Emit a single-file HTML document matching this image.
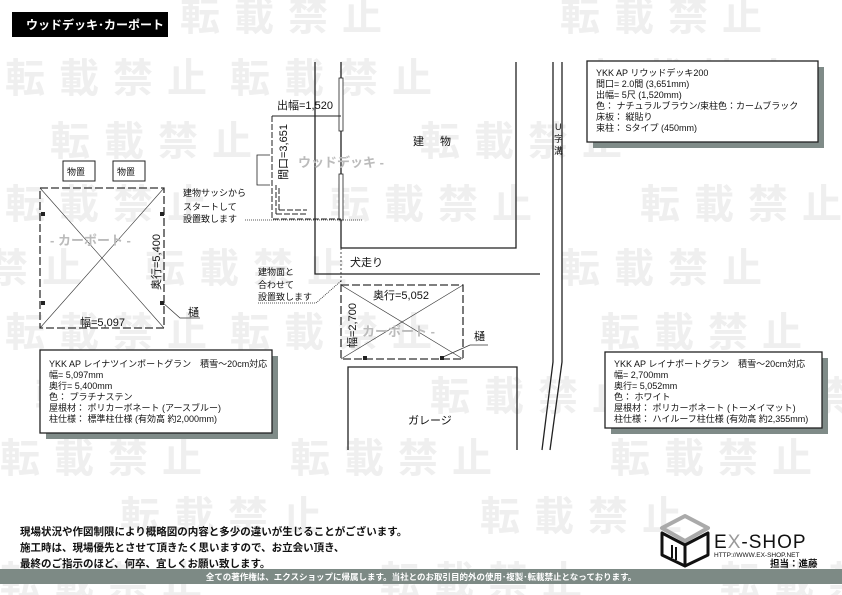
<!DOCTYPE html>
<html><head><meta charset="utf-8"><style>
html,body{margin:0;padding:0;background:#fff;}
svg{display:block;}
text{font-family:"Liberation Sans","Noto Sans CJK JP",sans-serif;}
.wm{fill:#efefef;font-size:40px;font-weight:bold;letter-spacing:14px;}
.s{font-size:9px;fill:#111;}
.m{font-size:11px;fill:#111;}
.g{font-size:13px;fill:#bbb;font-weight:bold;}
</style></head><body>
<svg width="842" height="595" viewBox="0 0 842 595" xmlns="http://www.w3.org/2000/svg">
<rect width="842" height="595" fill="#fff"/>
<g class="wm">
<text x="180" y="30">転載禁止</text><text x="560" y="30">転載禁止</text>
<text x="5" y="92">転載禁止</text><text x="230" y="92">転載禁止</text><text x="590" y="92">転載禁止</text>
<text x="50" y="155">転載禁止</text><text x="420" y="155">転載禁止</text>
<text x="5" y="218">転載禁止</text><text x="330" y="218">転載禁止</text><text x="640" y="218">転載禁止</text>
<text x="-120" y="282">転載禁止</text><text x="145" y="282">転載禁止</text><text x="560" y="282">転載禁止</text>
<text x="5" y="346">転載禁止</text><text x="230" y="346">転載禁止</text><text x="600" y="346">転載禁止</text>
<text x="35" y="410">転載禁止</text><text x="430" y="410">転載禁止</text><text x="700" y="410">転載禁止</text>
<text x="0" y="472">転載禁止</text><text x="290" y="472">転載禁止</text><text x="610" y="472">転載禁止</text>
<text x="120" y="530">転載禁止</text><text x="480" y="530">転載禁止</text>
<text x="0" y="595">転載禁止</text><text x="380" y="595">転載禁止</text><text x="720" y="595">転載禁止</text>
</g>
<rect x="12" y="12" width="156" height="25" fill="#000"/>
<text x="26" y="29" font-size="12" fill="#fff" font-weight="bold">ウッドデッキ･カーポート</text>
<g stroke="#222" stroke-width="1.3" fill="none">
<polyline points="315,62 315,274 540,274"/>
<polyline points="341,62 341,248 516,248 516,62"/>
<polyline points="553,62 553,362 542,450"/>
<polyline points="562,62 562,362 550,450"/>
<polyline points="348,450 348,367 517,367 517,450"/>
</g>
<rect x="339" y="78" width="4" height="53" fill="#fff" stroke="#222" stroke-width="0.8"/>
<rect x="339" y="174" width="4" height="46" fill="#fff" stroke="#222" stroke-width="0.8"/>
<g stroke="#222" stroke-width="1" fill="none">
<line x1="272" y1="116" x2="341" y2="116"/>
<path d="M272 116 V219 H341" stroke-dasharray="6,2"/>
<path d="M276 214 V185 M276 214 H307" stroke-dasharray="6,2"/>
<path d="M279 210 V188 M279 210 H307" stroke-dasharray="6,2"/>
<path d="M270 155 H257 V185 H270" stroke-width="0.8"/>
<line x1="245" y1="220" x2="362" y2="220" stroke-dasharray="1,1" stroke-width="0.8"/>
<line x1="341" y1="248" x2="341" y2="285" stroke-dasharray="2,2" stroke-width="0.8"/>
<path d="M258 303 H316 L341 281" stroke-dasharray="1,1" stroke-width="0.8"/>
</g>
<text x="277" y="109" class="m">出幅=1,520</text>
<text transform="translate(287,180) rotate(-90)" class="m">間口=3,651</text>
<text x="298" y="167" class="g">ウッドデッキ -</text>
<text x="413" y="145" class="m">建</text><text x="440" y="145" class="m">物</text>
<text x="555" y="130" class="s">U</text>
<text x="554" y="142" class="s">字</text><text x="554" y="154" class="s">溝</text>
<text x="183" y="196" class="s">建物サッシから</text>
<text x="183" y="210" class="s">スタートして</text>
<text x="183" y="222" class="s">設置致します</text>
<text x="258" y="275" class="s">建物面と</text>
<text x="258" y="288" class="s">合わせて</text>
<text x="258" y="300" class="s">設置致します</text>
<text x="350" y="266" class="m">犬走り</text>
<rect x="63" y="161" width="32" height="20" fill="#fff" stroke="#222"/>
<rect x="113" y="161" width="32" height="20" fill="#fff" stroke="#222"/>
<text x="67" y="175" class="s">物置</text><text x="117" y="175" class="s">物置</text>
<g stroke="#333" fill="none">
<rect x="40" y="188" width="124" height="140" stroke-dasharray="8,3" stroke-width="1.3"/>
<line x1="40" y1="188" x2="164" y2="328" stroke-width="0.6"/>
<line x1="164" y1="188" x2="40" y2="328" stroke-width="0.6"/>
<path d="M162 302 L180 318 H200" stroke-width="0.7"/>
</g>
<g fill="#222"><rect x="41" y="212" width="4" height="4"/><rect x="160" y="212" width="4" height="4"/><rect x="41" y="301" width="4" height="4"/><rect x="160" y="301" width="4" height="4"/></g>
<text x="50" y="245" class="g">- カーポート -</text>
<text transform="translate(160,290) rotate(-90)" class="m">奥行=5,400</text>
<text x="80" y="326" class="m">幅=5,097</text>
<text x="188" y="316" class="m">樋</text>
<g stroke="#333" fill="none">
<rect x="341" y="285" width="122" height="74" stroke-dasharray="8,3" stroke-width="1.3"/>
<line x1="341" y1="285" x2="463" y2="359" stroke-width="0.6"/>
<line x1="463" y1="285" x2="341" y2="359" stroke-width="0.6"/>
<path d="M443 357 L470 345 H488" stroke-width="0.7"/>
</g>
<g fill="#222"><rect x="363" y="356" width="4" height="4"/><rect x="440" y="356" width="4" height="4"/></g>
<text x="362" y="336" class="g">カーポート -</text>
<text x="373" y="299" class="m">奥行=5,052</text>
<text transform="translate(356,348) rotate(-90)" class="m">幅=2,700</text>
<text x="474" y="340" class="m">樋</text>
<text x="408" y="424" class="m">ガレージ</text>
<rect x="593" y="67" width="231" height="81" fill="#7f8b88"/>
<rect x="587" y="61" width="231" height="81" fill="#fff" stroke="#222" stroke-width="1.3"/>
<g class="s" font-size="8.5">
<text x="596" y="76">YKK AP リウッドデッキ200</text>
<text x="596" y="87">間口= 2.0間 (3,651mm)</text>
<text x="596" y="98">出幅= 5尺 (1,520mm)</text>
<text x="596" y="109">色： ナチュラルブラウン/束柱色：カームブラック</text>
<text x="596" y="120">床板： 縦貼り</text>
<text x="596" y="131">束柱： Sタイプ (450mm)</text>
</g>
<rect x="46" y="356" width="232" height="83" fill="#7f8b88"/>
<rect x="40" y="350" width="232" height="83" fill="#fff" stroke="#222" stroke-width="1.3"/>
<g class="s" font-size="8.5">
<text x="49" y="367">YKK AP レイナツインポートグラン　積雪～20cm対応</text>
<text x="49" y="378">幅= 5,097mm</text>
<text x="49" y="389">奥行= 5,400mm</text>
<text x="49" y="400">色： プラチナステン</text>
<text x="49" y="411">屋根材： ポリカーボネート (アースブルー)</text>
<text x="49" y="422">柱仕様： 標準柱仕様 (有効高 約2,000mm)</text>
</g>
<rect x="611" y="358" width="217" height="76" fill="#7f8b88"/>
<rect x="605" y="352" width="217" height="76" fill="#fff" stroke="#222" stroke-width="1.3"/>
<g class="s" font-size="8.5">
<text x="614" y="367">YKK AP レイナポートグラン　積雪～20cm対応</text>
<text x="614" y="378">幅= 2,700mm</text>
<text x="614" y="389">奥行= 5,052mm</text>
<text x="614" y="400">色： ホワイト</text>
<text x="614" y="411">屋根材： ポリカーボネート (トーメイマット)</text>
<text x="614" y="422">柱仕様： ハイルーフ柱仕様 (有効高 約2,355mm)</text>
</g>
<g font-size="10.5" font-weight="bold" fill="#111">
<text x="20" y="535">現場状況や作図制限により概略図の内容と多少の違いが生じることがございます。</text>
<text x="20" y="551">施工時は、現場優先とさせて頂きたく思いますので、お立会い頂き、</text>
<text x="20" y="567">最終のご指示のほど、何卒、宜しくお願い致します。</text>
</g>
<rect x="0" y="569" width="842" height="15" fill="#7d8a85"/>
<text x="421" y="580" font-size="8.5" fill="#fff" text-anchor="middle" font-weight="bold">全ての著作権は、エクスショップに帰属します。当社とのお取引目的外の使用･複製･転載禁止となっております。</text>
<g fill="none" stroke-linejoin="round">
<path d="M662 528 L685 516 L708 528 L685 541 Z" stroke="#aaa" stroke-width="4"/>
<path d="M662 533 V555 L685 566 V545 Z M708 533 V555 L685 566 V545 Z" stroke="#111" stroke-width="3"/>
<path d="M672 545 V558 M676 547 V560" stroke="#111" stroke-width="2"/>
</g>
<text x="714" y="548" font-size="19" fill="#111" letter-spacing="1">E<tspan fill="#999">X</tspan>-SHOP</text>
<text x="714" y="557" font-size="6.5" fill="#111">HTTP://WWW.EX-SHOP.NET</text>
<text x="770" y="567" font-size="9.5" font-weight="bold" fill="#111">担当：進藤</text>
</svg>
</body></html>
